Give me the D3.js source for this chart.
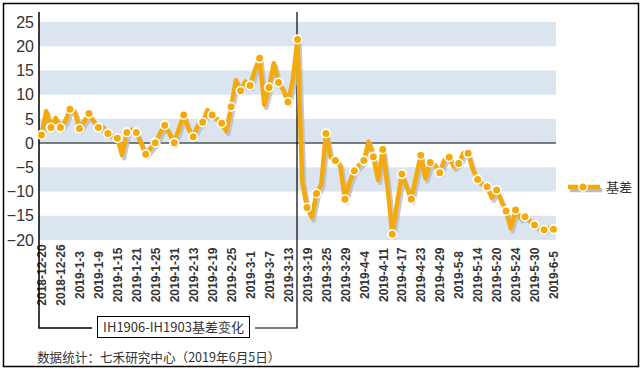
<html>
<head>
<meta charset="utf-8">
<title>IH basis</title>
<style type="text/css">
  body { margin: 0; background: #fff; }
  text { font-family: "Liberation Sans", Arial, sans-serif; fill: #333; }
  .cjk { font-family: "Noto Sans CJK SC", sans-serif; }
</style>
<script src="https://d3js.org/d3.v7.min.js"></script>
</head>
<body>
<svg width="644" height="369"></svg>
<script>
// basis series, one value per trading day (markers on every second day)
var basis = [
  1.7, 6.6, 3.2, 5.2, 3.2, 4.5, 7.0, 6.5, 3.0, 4.5,
  6.1, 4.5, 3.2, 3.3, 2.0, 1.5, 1.0, -2.5, 2.2, 2.8,
  2.2, 0.0, -2.3, -1.0, 0.1, 2.0, 3.7, 2.0, 0.1, 3.0,
  5.8, 3.0, 1.3, 3.7, 4.3, 6.8, 5.8, 5.0, 4.1, 2.5,
  7.5, 13.0, 10.8, 12.7, 11.9, 15.0, 17.5, 7.9, 11.5, 16.5,
  12.5, 11.0, 8.5, 13.0, 21.4, -8.0, -13.3, -15.3, -10.4, -8.5,
  2.0, -3.0, -3.6, -4.5, -11.6, -8.0, -5.7, -4.5, -3.6, 0.3,
  -2.8, -7.6, -1.3, -9.0, -18.8, -12.5, -6.4, -9.0, -11.6, -6.9,
  -2.5, -7.3, -4.0, -4.5, -6.1, -3.5, -2.9, -4.9, -4.2, -2.1,
  -2.1, -5.5, -7.5, -8.5, -9.0, -11.3, -9.7, -12.0, -14.0, -17.6,
  -13.8, -15.5, -15.2, -16.0, -16.9, -17.5, -17.9, -17.5, -17.8
];
// date labels, one every 4 trading days
var tickLabels = [
  "2018-12-20", "2018-12-26", "2019-1-3", "2019-1-9", "2019-1-15", "2019-1-21", "2019-1-25",
  "2019-1-31", "2019-2-13", "2019-2-19", "2019-2-25", "2019-3-1", "2019-3-7", "2019-3-13",
  "2019-3-19", "2019-3-25", "2019-3-29", "2019-4-4", "2019-4-11", "2019-4-17", "2019-4-23",
  "2019-4-29", "2019-5-8", "2019-5-14", "2019-5-20", "2019-5-24", "2019-5-30", "2019-6-5"
];
var yTicks = [-20, -15, -10, -5, 0, 5, 10, 15, 20, 25];
var seriesName = "基差";
var boxLabel = "IH1906-IH1903基差变化";
var footer = "数据统计：七禾研究中心（2019年6月5日）";

var svg = d3.select("svg"),
    orange = "#f4aa0c",
    shadow = "#b9bcc0",
    plotLeft = 39, plotRight = 556;

var x = d3.scaleLinear().domain([0, basis.length - 1]).range([41.5, 553.5]);
var y = d3.scaleLinear().domain([-20, 25]).range([240, 22]);

// outer frame
svg.append("rect")
  .attr("x", 3.5).attr("y", 3.5)
  .attr("width", 635).attr("height", 363)
  .attr("fill", "none").attr("stroke", "#000").attr("stroke-width", 1.5);

// alternating bands
var bands = d3.range(-20, 25, 10);
svg.append("g").selectAll("rect")
  .data(bands)
  .enter().append("rect")
    .attr("x", plotLeft)
    .attr("width", plotRight - plotLeft)
    .attr("y", d => y(d + 5))
    .attr("height", d => y(d) - y(d + 5))
    .attr("fill", "#dbe5f0");

// zero line
svg.append("line")
  .attr("x1", plotLeft).attr("x2", plotRight)
  .attr("y1", y(0)).attr("y2", y(0))
  .attr("stroke", "#555").attr("stroke-width", 1.5);

// y axis
var yAxis = svg.append("g")
  .attr("transform", `translate(${plotLeft},0)`)
  .call(d3.axisLeft(y).tickValues(yTicks).tickSize(0).tickPadding(5));
yAxis.select(".domain").remove();
yAxis.selectAll("text")
  .style("font-size", "16px")
  .attr("fill", "#333");

// x axis labels
var xAxis = svg.append("g")
  .attr("transform", `translate(0,${y(-20)})`)
  .call(d3.axisBottom(x)
    .tickValues(d3.range(0, basis.length, 4))
    .tickFormat((d, i) => tickLabels[i])
    .tickSize(0));
xAxis.select(".domain").remove();
xAxis.selectAll("text")
  .attr("transform", "rotate(-90)")
  .attr("x", -35)
  .attr("y", 0)
  .attr("dy", "0.35em")
  .attr("text-anchor", "middle")
  .style("font-size", "12px")
  .style("font-weight", "bold")
  .attr("fill", "#333");

// axis line + annotation bracket
svg.append("path")
  .attr("d", `M${plotLeft},12V328H92`)
  .attr("fill", "none").attr("stroke", "#000").attr("stroke-width", 1.5);
svg.append("path")
  .attr("d", `M255,328H${x(54) - 0.5}V12`)
  .attr("fill", "none").attr("stroke", "#000").attr("stroke-width", 1.2);
svg.append("rect")
  .attr("x", 97.5).attr("y", 316.5)
  .attr("width", 152).attr("height", 21)
  .attr("fill", "#fff").attr("stroke", "#000").attr("stroke-width", 1);
svg.append("text")
  .attr("class", "cjk")
  .attr("x", 173.5).attr("y", 327)
  .attr("dy", "0.35em")
  .attr("text-anchor", "middle")
  .style("font-size", "13px")
  .text(boxLabel);

// series line with shadow
var line = d3.line()
  .x((d, i) => x(i))
  .y(d => y(d));

svg.append("path")
  .datum(basis)
  .attr("d", line)
  .attr("transform", "translate(2,3)")
  .attr("fill", "none")
  .attr("stroke", shadow)
  .attr("stroke-opacity", 0.8)
  .attr("stroke-width", 4.5)
  .attr("stroke-linejoin", "round");

svg.append("path")
  .datum(basis)
  .attr("d", line)
  .attr("fill", "none")
  .attr("stroke", orange)
  .attr("stroke-width", 4.5)
  .attr("stroke-linejoin", "round");

svg.append("g").selectAll("circle")
  .data(basis.map((v, i) => ({i: i, v: v})).filter(d => d.i % 2 === 0))
  .enter().append("circle")
    .attr("cx", d => x(d.i))
    .attr("cy", d => y(d.v))
    .attr("r", 4.3)
    .attr("fill", orange)
    .attr("stroke", "#fff")
    .attr("stroke-width", 1.6);

// legend
var legend = svg.append("g").attr("transform", "translate(568,187)");
legend.append("line")
  .attr("x1", 2).attr("x2", 34).attr("y1", 3).attr("y2", 3)
  .attr("stroke", shadow).attr("stroke-width", 4.5);
legend.append("line")
  .attr("x1", 0).attr("x2", 32).attr("y1", 0).attr("y2", 0)
  .attr("stroke", orange).attr("stroke-width", 4.5);
legend.append("circle")
  .attr("cx", 15).attr("cy", 0).attr("r", 4.3)
  .attr("fill", orange).attr("stroke", "#fff").attr("stroke-width", 1.6);
legend.append("text")
  .attr("class", "cjk")
  .attr("x", 38).attr("y", 0)
  .attr("dy", "0.35em")
  .style("font-size", "13px")
  .text(seriesName);

// footer
svg.append("text")
  .attr("class", "cjk")
  .attr("x", 37).attr("y", 358)
  .attr("dy", "0.35em")
  .style("font-size", "12.6px")
  .text(footer);
</script>
</body>
</html>
